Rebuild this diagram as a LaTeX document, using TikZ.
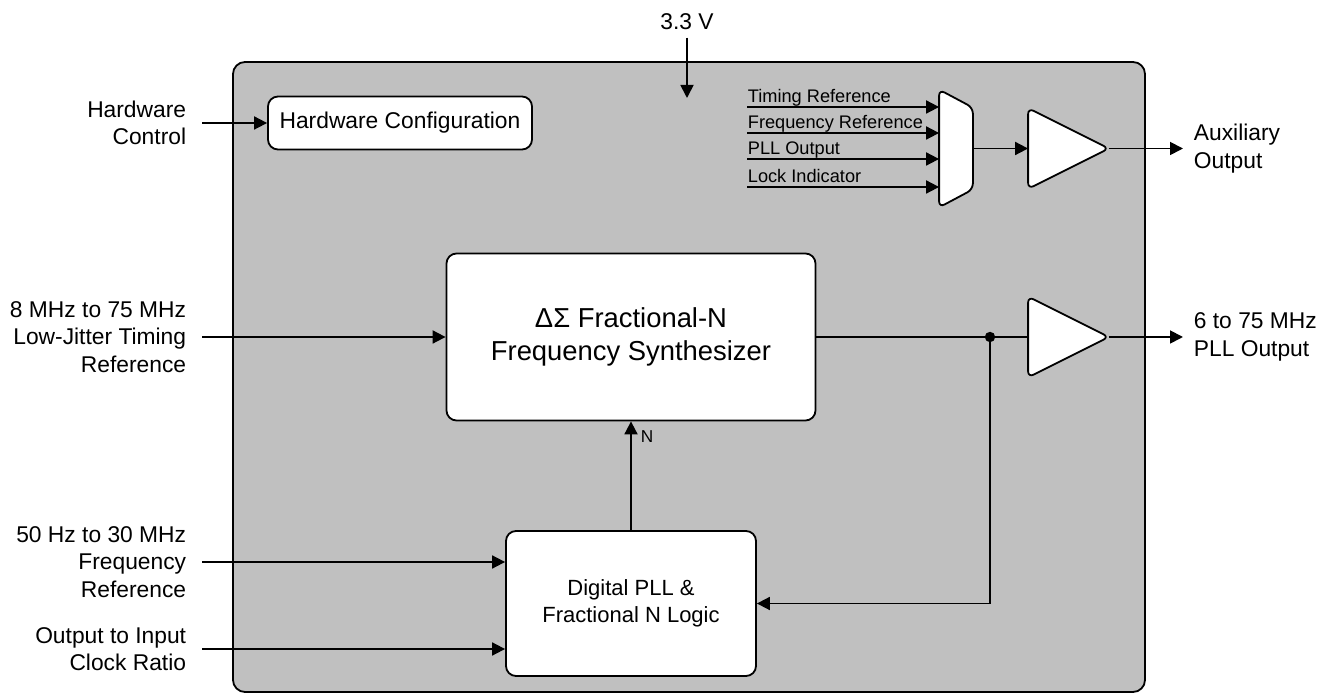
\documentclass[tikz,border=0pt]{standalone}
\usepackage{fontspec}
\setmainfont{Liberation Sans}
\usetikzlibrary{arrows.meta,positioning}
\definecolor{chip}{RGB}{192,192,192}
\tikzstyle{block}=[draw, fill=white, rectangle, rounded corners=5pt, align=center, inner sep=0pt]
\tikzstyle{box}=[rectangle, inner sep=0pt]
\tikzstyle{inlabel}=[left, align=right, inner sep=0pt, xshift=-7.5pt]
\tikzstyle{outlabel}=[right, align=left, inner sep=0pt, xshift=5pt]
\tikzstyle{muxlabel}=[anchor=base west, inner sep=0pt, yshift=2.2pt, font=\fontsize{9.1}{11}\selectfont]

\begin{document}
\begin{tikzpicture}[x=0.5pt, y=-0.5pt, >={Triangle[length=6.5pt,width=6.5pt]}, line width=0.9pt, font=\fontsize{11.4}{13.75}\selectfont]
    \useasboundingbox (0,0) rectangle (1334,694);
    % chip outline
    \draw[fill=chip, rounded corners=6pt] (233,62) rectangle (1145,692);
    \node (vcc) at (687,22) {3.3 V};
    \coordinate (vin) at (687,98);
    \draw[->] (vcc) -- (vin);
    % blocks
    \node [block, minimum width=132pt, minimum height=26.5pt] (hw) at (400,123) {Hardware Configuration};
    \node [block, minimum width=184.5pt, minimum height=83.5pt, font=\fontsize{13.7}{16.5}\selectfont] (synth) at (631,337) {ΔΣ Fractional-N\\Frequency Synthesizer};
    \node [block, minimum width=125pt, minimum height=72.5pt, font=\fontsize{11}{13.3}\selectfont] (dpll) at (631,603.5) {Digital PLL \&\\Fractional N Logic};
    \node [box, minimum width=16pt, minimum height=58pt] (mux) at (956,148.5) {};
    \node [box, minimum size=39.5pt] (abuf) at (1068.5,148.5) {};
    \node [box, minimum size=39.5pt] (pbuf) at (1068.5,337) {};
    \draw[fill=white, rounded corners=3pt] (mux.north west) -- ([yshift=-9pt]mux.north east) -- ([yshift=9pt]mux.south east) -- (mux.south west) -- cycle;
    \foreach \b in {abuf,pbuf}
        \draw[fill=white, rounded corners=3pt] (\b.north west) -- (\b.east) -- (\b.south west) -- cycle;
    % mux inputs
    \foreach \y/\txt [count=\i] in {107/Timing Reference, 133/Frequency Reference, 159/PLL Output, 187/Lock Indicator} {
        \coordinate (m\i) at (747,\y);
        \draw[->] (m\i) node[muxlabel] {\txt} -- (m\i -| mux.west);
    }
    \draw[->] (mux.east) -- (abuf.west);
    % inputs
    \coordinate (hwc) at (202,123);
    \draw[->] (hwc) node[inlabel] {Hardware\\Control} -- (hw.west);
    \coordinate (tref) at (202,337);
    \draw[->] (tref) node[inlabel] {8 MHz to 75 MHz\\Low-Jitter Timing\\Reference} -- (synth.west);
    \coordinate (fref) at (202,562);
    \draw[->] (fref) node[inlabel] {50 Hz to 30 MHz\\Frequency\\Reference} -- (fref -| dpll.west);
    \coordinate (ratio) at (202,649);
    \draw[->] (ratio) node[inlabel] {Output to Input\\Clock Ratio} -- (ratio -| dpll.west);
    % outputs
    \coordinate (aout) at (1183,148.5);
    \draw[->] (abuf.east) -- (aout) node[outlabel] {Auxiliary\\Output};
    \coordinate (pout) at (1183,337);
    \draw[->] (pbuf.east) -- (pout) node[outlabel] {6 to 75 MHz\\PLL Output};
    \draw (synth.east) -- (pbuf.west);
    \coordinate (dot) at (990,337);
    \fill (dot) circle (2.6pt);
    \draw[->] (dot) |- (dpll.east);
    \draw[->] (dpll.north) -- (synth.south) node[pos=0.856, right, inner sep=0pt, xshift=4.5pt, font=\fontsize{8.6}{10}\selectfont] {N};
\end{tikzpicture}
\end{document}
